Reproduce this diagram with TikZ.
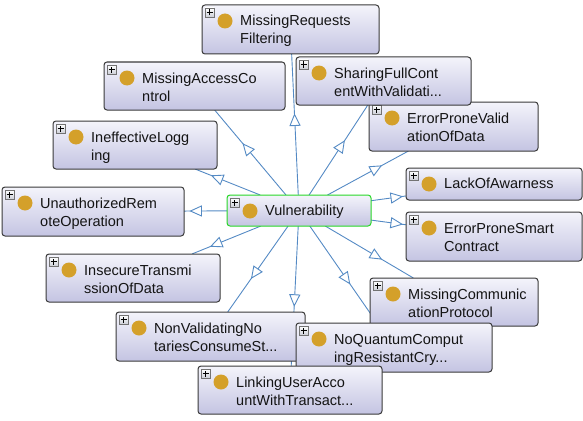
\documentclass[tikz,border=0pt]{standalone}
\usepackage{fontspec}
\setmainfont{Liberation Sans}
\usetikzlibrary{decorations.markings}
\pgfdeclarelayer{bg}
\pgfsetlayers{bg,main}
\definecolor{boxtop}{RGB}{244,244,251}
\definecolor{boxbot}{RGB}{196,196,226}
\definecolor{boxline}{RGB}{58,58,58}
\definecolor{edgecol}{RGB}{84,138,196}
\definecolor{gold}{RGB}{212,160,42}
\definecolor{selgreen}{RGB}{40,215,40}
\definecolor{plusfill}{RGB}{205,208,216}
\tikzset{
 clsbox/.style={draw=boxline, line width=1pt, rounded corners=3pt, top color=boxtop, bottom color=boxbot, anchor=north west, inner sep=0pt, outer sep=0pt},
 lbl/.style={anchor=base west, inner sep=0pt, font=\fontsize{14.5}{18}\selectfont, text=black!92},
 golddot/.style={circle, fill=gold, minimum size=15pt, inner sep=0pt},
 plusbox/.style={draw=black!55, line width=0.6pt, top color=white, bottom color=plusfill, minimum size=9pt, inner sep=0pt},
 edge/.style={draw=edgecol, line width=0.9pt},
 midarrow/.style={decorate, decoration={markings, mark=at position 0.5 with {\draw[draw=edgecol, fill=white, line width=0.9pt, line join=miter] (5.5pt,0pt) -- (-5.5pt,5pt) -- (-5.5pt,-5pt) -- cycle;}}},
}
\newcommand\ocls[8][boxline]{%
 \node[clsbox, draw=#1, minimum width={#5-#3}, minimum height={#6-#4}] (#2) at (#3,#4) {};
 \node[plusbox] (#2-p) at ({#3+7.5},{#4+7.5}) {};
 \draw[line width=0.9pt] ([xshift=-3pt]#2-p.center) -- ([xshift=3pt]#2-p.center) ([yshift=-3pt]#2-p.center) -- ([yshift=3pt]#2-p.center);
 \node[golddot] (#2-c) at ({#3+23},{#4+16}) {};
 \if\relax\detokenize{#8}\relax
  \node[lbl] (#2-a) at ({#3+38},{#4+20.5}) {#7};
 \else
  \node[lbl] (#2-a) at ({#3+38},{#4+21}) {#7};
  \node[lbl] (#2-b) at ({#3+38},{#4+39}) {#8};
 \fi
}
\begin{document}
\begin{tikzpicture}[x=1pt,y=-1pt]
\useasboundingbox (0,0) rectangle (583,420);
\ocls{mrf}{202}{5}{379}{54}{MissingRequests}{Filtering}
\ocls{mac}{104}{62}{285}{110}{MissingAccessCo}{ntrol}
\ocls{epv}{369}{102}{538}{151}{ErrorProneValid}{ationOfData}
\ocls{sfc}{296}{57}{471}{105}{SharingFullCont}{entWithValidati...}
\ocls{il}{53}{121}{217}{169}{IneffectiveLogg}{ing}
\ocls{uro}{2}{187}{184}{236}{UnauthorizedRem}{oteOperation}
\ocls[selgreen]{vul}{227}{195}{371}{226}{Vulnerability}{}
\ocls{loa}{406}{168}{582}{200}{LackOfAwarness}{}
\ocls{epsc}{406}{212}{582}{261}{ErrorProneSmart}{Contract}
\ocls{itd}{46}{254}{220}{302}{InsecureTransmi}{ssionOfData}
\ocls{mcp}{370}{278}{538}{326}{MissingCommunic}{ationProtocol}
\ocls{nvn}{116}{312}{305}{361}{NonValidatingNo}{tariesConsumeSt...}
\ocls{nqc}{296}{323}{492}{372}{NoQuantumComput}{ingResistantCry...}
\ocls{lua}{198}{366}{382}{414}{LinkingUserAcco}{untWithTransact...}
\begin{pgfonlayer}{bg}
\foreach \c in {mrf,mac,sfc,epv,il,uro,loa,epsc,itd,mcp,nvn,nqc,lua}{
  \draw[edge] (vul) -- (\c);
  \path[midarrow] (vul.center) -- (\c.center);
}
\end{pgfonlayer}
\end{tikzpicture}
\end{document}
